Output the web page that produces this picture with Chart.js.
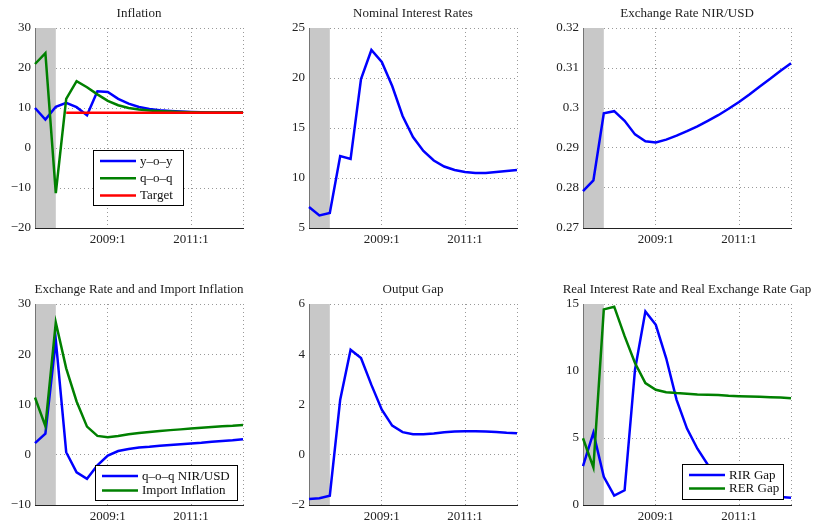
<!DOCTYPE html>
<html>
<head>
<meta charset="utf-8">
<script src="https://cdn.jsdelivr.net/npm/chart.js@4/dist/chart.umd.min.js"></script>
<style>
  body { margin: 0; background: #fff; width: 816px; height: 525px; position: relative; overflow: hidden; }
  .panel { position: absolute; }
</style>
</head>
<body>
<div class="panel" style="left:0px;top:0px"><canvas id="c1" width="268" height="248"></canvas></div>
<div class="panel" style="left:274px;top:0px"><canvas id="c2" width="268" height="248"></canvas></div>
<div class="panel" style="left:548px;top:0px"><canvas id="c3" width="268" height="248"></canvas></div>
<div class="panel" style="left:0px;top:276px"><canvas id="c4" width="268" height="249"></canvas></div>
<div class="panel" style="left:274px;top:276px"><canvas id="c5" width="268" height="249"></canvas></div>
<div class="panel" style="left:548px;top:276px"><canvas id="c6" width="268" height="249"></canvas></div>
<script>
// quarters on the x axis, only two of them get a label
const quarters = ['2007:2', '2007:3', '2007:4', '2008:1', '2008:2', '2008:3', '2008:4',
    '2009:1', '2009:2', '2009:3', '2009:4', '2010:1', '2010:2', '2010:3', '2010:4',
    '2011:1', '2011:2', '2011:3', '2011:4', '2012:1', '2012:2'];
const shownTicks = ['2009:1', '2011:1'];
const shadeFrom = '2007:2';
const shadeTo = '2007:4';

// Inflation
const inflYoy = [10.0, 7.1, 10.3, 11.3, 10.2, 8.2, 14.2, 14.0, 12.3, 11.1, 10.25, 9.75, 9.45, 9.25, 9.1, 9.0, 8.95, 8.9, 8.9, 8.85, 8.85];
const inflQoq = [21.0, 23.7, -11.3, 12.3, 16.7, 15.2, 13.4, 11.8, 10.7, 10.0, 9.6, 9.35, 9.2, 9.1, 9.0, 8.95, 8.9, 8.85, 8.85, 8.85, 8.85];
const inflTarget = [null, null, null, 8.8, 8.8, 8.8, 8.8, 8.8, 8.8, 8.8, 8.8, 8.8, 8.8, 8.8, 8.8, 8.8, 8.8, 8.8, 8.8, 8.8, 8.8];
const inflTicks = [-20, 30, 10];

// Nominal interest rates
const nomRate = [7.1, 6.25, 6.5, 12.2, 11.9, 19.9, 22.8, 21.6, 19.2, 16.2, 14.1, 12.7, 11.75, 11.15, 10.8, 10.6, 10.5, 10.5, 10.6, 10.7, 10.8];
const nomTicks = [5, 25, 5];

// Exchange rate NIR/USD
const fxRate = [0.2792, 0.2819, 0.2987, 0.2992, 0.2968, 0.2934, 0.2917, 0.2914, 0.2921, 0.2931, 0.2942, 0.2954, 0.2968, 0.2982, 0.2998, 0.3015, 0.3034, 0.3054, 0.3073, 0.3093, 0.3112];
const fxTicks = [0.27, 0.32, 0.01];

// Exchange rate and import inflation
const fxQoq = [2.3, 4.2, 22.8, 0.5, -3.5, -4.8, -2.1, -0.15, 0.75, 1.15, 1.45, 1.6, 1.8, 1.95, 2.1, 2.25, 2.4, 2.6, 2.75, 2.9, 3.1];
const importInfl = [11.4, 5.7, 26.3, 17.2, 10.6, 5.6, 3.75, 3.5, 3.75, 4.1, 4.35, 4.55, 4.75, 4.9, 5.05, 5.2, 5.35, 5.5, 5.65, 5.75, 5.9];
const fxInflTicks = [-10, 30, 10];

// Output gap
const outputGap = [-1.76, -1.73, -1.63, 2.19, 4.18, 3.85, 2.78, 1.79, 1.16, 0.9, 0.82, 0.82, 0.85, 0.9, 0.93, 0.94, 0.94, 0.93, 0.91, 0.88, 0.86];
const gapTicks = [-2, 6, 2];

// Real interest rate gap and real exchange rate gap
const rirGap = [2.9, 5.4, 2.1, 0.7, 1.1, 10.1, 14.45, 13.45, 10.95, 7.85, 5.7, 4.2, 3.0, 2.2, 1.6, 1.2, 0.95, 0.8, 0.7, 0.6, 0.55];
const rerGap = [4.98, 2.8, 14.6, 14.8, 12.6, 10.6, 9.1, 8.6, 8.42, 8.35, 8.3, 8.25, 8.22, 8.2, 8.15, 8.12, 8.1, 8.07, 8.04, 8.02, 7.97];
const rTicks = [0, 15, 5];

const BLUE = '#0000ff';
const GREEN = '#008000';
const RED = '#ff0000';
const FONT = "'Liberation Serif', 'Times New Roman', serif";

const panelPlugin = {
    id: 'panelDeco',
    beforeDatasetsDraw(chart) {
        const ctx = chart.ctx;
        const x = chart.scales.x;
        const a = chart.chartArea;
        const x0 = x.getPixelForValue(quarters.indexOf(shadeFrom));
        const x1 = x.getPixelForValue(quarters.indexOf(shadeTo));
        ctx.save();
        ctx.fillStyle = '#c8c8c8';
        ctx.fillRect(x0 + 0.5, a.top, x1 - x0 - 0.5, a.bottom - a.top);
        ctx.restore();
    },
    afterDraw(chart, args, opts) {
        const ctx = chart.ctx;
        const a = chart.chartArea;
        ctx.save();
        ctx.fillStyle = '#222';
        ctx.font = '13px ' + FONT;
        ctx.textAlign = 'center';
        ctx.textBaseline = 'middle';
        ctx.fillText(opts.title, (a.left + a.right) / 2, a.top - 14);
        if (opts.legend) {
            const L = opts.legend;
            ctx.fillStyle = '#fff';
            ctx.fillRect(L.x, L.y, L.w, L.h);
            ctx.strokeStyle = '#000';
            ctx.lineWidth = 1;
            ctx.strokeRect(L.x + 0.5, L.y + 0.5, L.w, L.h);
            ctx.textAlign = 'left';
            chart.data.datasets.forEach((ds, i) => {
                const yy = L.y + 11 + i * L.rowH;
                ctx.strokeStyle = ds.borderColor;
                ctx.lineWidth = 2.5;
                ctx.beginPath();
                ctx.moveTo(L.x + 7, yy);
                ctx.lineTo(L.x + 43, yy);
                ctx.stroke();
                ctx.fillStyle = '#111';
                ctx.fillText(ds.label, L.x + 47, yy + 0.5);
            });
        }
        ctx.restore();
    }
};

function line(label, data, color, order) {
    return {
        label: label, data: data, borderColor: color, backgroundColor: color,
        borderWidth: 2.5, pointRadius: 0, tension: 0, order: order, spanGaps: false
    };
}

function fmt(v) {
    return String(Math.round(v * 1000) / 1000).replace('-', '\u2212');
}

function makePanel(id, title, datasets, yt, legend) {
    const gridColor = 'rgba(0,0,0,0.4)';
    new Chart(document.getElementById(id), {
        type: 'line',
        data: { labels: quarters, datasets: datasets },
        options: {
            responsive: false,
            animation: false,
            layout: { padding: { top: 28, right: 25, left: 0, bottom: 0 } },
            plugins: {
                legend: { display: false },
                tooltip: { enabled: false },
                panelDeco: { title: title, legend: legend }
            },
            scales: {
                x: {
                    type: 'category',
                    offset: false,
                    afterFit: s => { s.height = 20; },
                    grid: {
                        drawTicks: false,
                        lineWidth: 1,
                        color: c => {
                            const lab = quarters[c.index];
                            return (shownTicks.includes(lab) || c.index === quarters.length - 1) ? gridColor : 'rgba(0,0,0,0)';
                        }
                    },
                    border: { display: true, color: '#222', width: 1, dash: [1, 3] },
                    ticks: {
                        autoSkip: false,
                        maxRotation: 0,
                        padding: 4,
                        color: '#222',
                        font: { family: FONT, size: 13 },
                        callback: (v, i) => shownTicks.includes(quarters[i]) ? quarters[i] : ''
                    }
                },
                y: {
                    min: yt[0], max: yt[1],
                    afterFit: s => { s.width = 35; },
                    grid: { drawTicks: false, lineWidth: 1, color: gridColor },
                    border: { display: true, color: '#222', width: 1, dash: [1, 3] },
                    ticks: {
                        stepSize: yt[2],
                        padding: 4,
                        color: '#222',
                        font: { family: FONT, size: 13 },
                        callback: v => fmt(v)
                    }
                }
            }
        },
        plugins: [panelPlugin]
    });
}

makePanel('c1', 'Inflation', [
    line('y\u2013o\u2013y', inflYoy, BLUE, 3),
    line('q\u2013o\u2013q', inflQoq, GREEN, 2),
    line('Target', inflTarget, RED, 1)
], inflTicks, { x: 93, y: 150, w: 90, h: 55, rowH: 17.2 });

makePanel('c2', 'Nominal Interest Rates', [
    line('Nominal rate', nomRate, BLUE, 1)
], nomTicks, null);

makePanel('c3', 'Exchange Rate NIR/USD', [
    line('NIR/USD', fxRate, BLUE, 1)
], fxTicks, null);

makePanel('c4', 'Exchange Rate and and Import Inflation', [
    line('q\u2013o\u2013q NIR/USD', fxQoq, BLUE, 2),
    line('Import Inflation', importInfl, GREEN, 1)
], fxInflTicks, { x: 95, y: 189, w: 142, h: 35, rowH: 14.5 });

makePanel('c5', 'Output Gap', [
    line('Output gap', outputGap, BLUE, 1)
], gapTicks, null);

makePanel('c6', 'Real Interest Rate and Real Exchange Rate Gap', [
    line('RIR Gap', rirGap, BLUE, 2),
    line('RER Gap', rerGap, GREEN, 1)
], rTicks, { x: 134, y: 188, w: 101, h: 35, rowH: 13.5 });
</script>
</body>
</html>
